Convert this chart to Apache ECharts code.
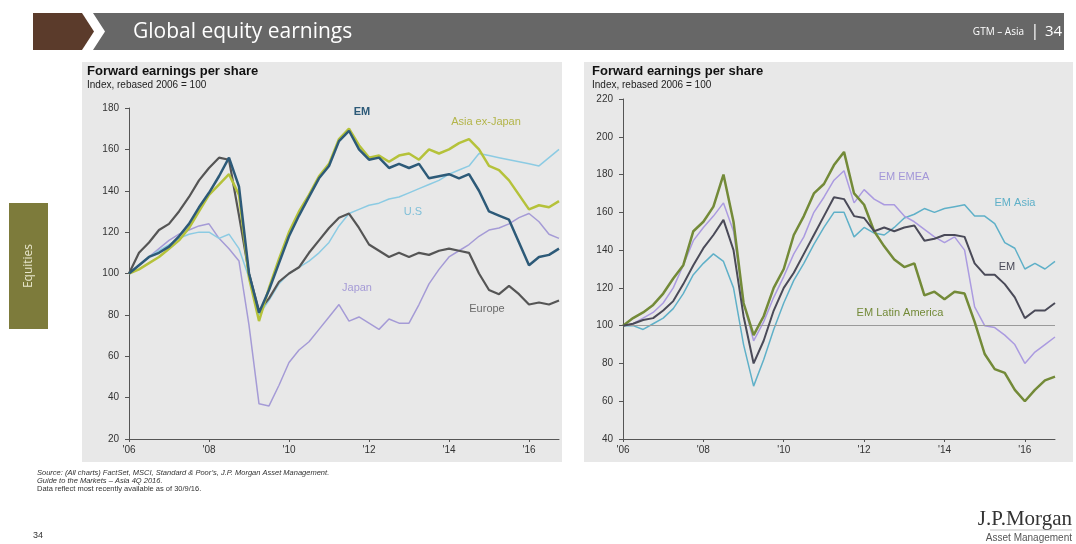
<!DOCTYPE html>
<html>
<head>
<meta charset="utf-8">
<script src="https://cdn.jsdelivr.net/npm/echarts@6/dist/echarts.min.js"></script>
<style>
html,body{margin:0;padding:0;background:#fff;}
#c{width:1076px;height:544px;}
</style>
</head>
<body>
<div id="c"></div>
<script>
// ---------- DATA ----------
var years = [2006,2006.25,2006.5,2006.75,2007,2007.25,2007.5,2007.75,2008,2008.25,2008.5,2008.75,
  2009,2009.25,2009.5,2009.75,2010,2010.25,2010.5,2010.75,2011,2011.25,2011.5,2011.75,
  2012,2012.25,2012.5,2012.75,2013,2013.25,2013.5,2013.75,2014,2014.25,2014.5,2014.75,
  2015,2015.25,2015.5,2015.75,2016,2016.25,2016.5,2016.75];
var xTickValues = [2006,2008,2010,2012,2014,2016];
var leftYTicks = [20,40,60,80,100,120,140,160,180];
var rightYTicks = [40,60,80,100,120,140,160,180,200,220];

// Left chart: forward EPS, index 2006 = 100
var europe = [100,110,115,121,124,130,137,145,151,156,155,128,
  100,82,88,96,100,103,110,116,122,127,129,122,
  114,111,108,110,108,110,109,111,112,111,110,100,
  92,90,94,90,85,86,85,87];
var emLeft = [100,104,108,110,113,118,124,132,139,147,156,142,
  100,81,92,105,118,128,137,146,152,164,169,160,
  155,156,151,153,151,153,146,147,148,146,148,140,
  130,128,126,115,104,108,109,112];
var asiaExJapan = [100,102,105,108,112,116,122,130,138,143,148,138,
  98,77,93,107,120,130,138,147,153,165,170,162,
  156,157,154,157,158,155,160,158,160,163,165,160,
  152,150,145,138,131,133,132,135];
var us = [100,104,108,111,114,117,119,120,120,117,119,112,
  98,80,87,95,100,103,106,110,115,123,129,131,
  133,134,136,137,139,141,143,145,148,150,152,158,
  157,156,155,154,153,152,156,160];
var japan = [100,104,108,112,116,119,121,123,124,117,112,106,
  75,37,36,46,57,63,67,73,79,85,77,79,
  76,73,78,76,76,85,95,102,108,111,114,118,
  121,122,124,127,129,125,119,117];

// Right chart
var emLatAm = [100,104,107,111,117,125,132,150,155,163,180,155,
  112,95,105,120,130,148,158,170,175,185,192,170,
  164,150,142,135,131,133,116,118,114,118,117,102,
  85,77,75,66,60,66,71,73];
var emRight = [100,101,103,104,108,113,122,132,141,148,156,140,
  105,80,92,108,120,128,138,148,158,168,167,158,
  157,150,152,150,152,153,145,146,148,148,147,133,
  127,127,122,115,104,108,108,112];
var emEmea = [100,101,104,107,112,120,132,145,152,158,165,150,
  112,92,102,115,126,138,147,160,168,177,182,165,
  172,167,164,164,158,155,151,147,144,147,140,110,
  100,99,95,90,80,86,90,94];
var emAsia = [100,100,98,101,104,109,117,127,133,138,134,120,
  90,68,82,98,112,124,133,143,152,160,160,147,
  152,149,148,152,157,159,162,160,162,163,164,158,
  158,154,144,141,130,133,130,134];

// ---------- CHART ----------
function pairs(v){ return years.map(function(y,i){ return [y, v[i]]; }); }
function yr(v){ return "'" + String(Math.round(v)).slice(2,4); }

var axisCol = '#555';
var labelStyle = {color:'#333', fontSize:10, fontFamily:'Liberation Sans, Arial, sans-serif'};

function xAxis(gi){
  return {
    type:'value', gridIndex:gi, min:2006, max:2016.75, interval:2,
    axisLine:{show:true, lineStyle:{color:axisCol, width:1}},
    axisTick:{show:true, length:3, customValues:xTickValues, lineStyle:{color:axisCol}},
    axisLabel:Object.assign({margin:6, formatter:yr, customValues:xTickValues}, labelStyle),
    splitLine:{show:false}
  };
}
function yAxis(gi, min, max, ticks){
  return {
    type:'value', gridIndex:gi, min:min, max:max, interval:20,
    axisLine:{show:true, lineStyle:{color:axisCol, width:1}},
    axisTick:{show:true, length:4, customValues:ticks, lineStyle:{color:axisCol}},
    axisLabel:Object.assign({margin:10, customValues:ticks}, labelStyle),
    splitLine:{show:false}
  };
}
function line(name, data, color, width, xi, z){
  return {
    type:'line', name:name, xAxisIndex:xi, yAxisIndex:xi, data:pairs(data),
    showSymbol:false, symbol:'none', smooth:false, z:z||2,
    lineStyle:{color:color, width:width}, itemStyle:{color:color}, animation:false
  };
}

var font = 'Liberation Sans, Arial, sans-serif';
function txt(x, y, text, fill, size, opts){
  var s = Object.assign({text:text, fill:fill, fontSize:size, fontFamily:font}, opts||{});
  return {type:'text', x:x, y:y, z:100, style:s, silent:true};
}

var chart = echarts.init(document.getElementById('c'), null, {renderer:'canvas'});
var latSeries = line('EM Latin America', emLatAm, '#738a38', 2.5, 1, 5);
latSeries.markLine = {
  silent:true, symbol:'none', label:{show:false},
  lineStyle:{color:'#9a9a9a', width:1, type:'solid'},
  data:[{yAxis:100}], animation:false
};

chart.setOption({
  animation:false,
  backgroundColor:'#ffffff',
  grid:[
    {left:129, top:108, width:430, height:331},
    {left:623, top:99, width:432, height:340}
  ],
  xAxis:[xAxis(0), xAxis(1)],
  yAxis:[yAxis(0,20,180,leftYTicks), yAxis(1,40,220,rightYTicks)],
  series:[
    line('Japan', japan, '#a59bd6', 1.5, 0, 2),
    line('U.S.', us, '#8ccbe3', 1.5, 0, 3),
    line('Europe', europe, '#555555', 2.2, 0, 4),
    line('Asia ex-Japan', asiaExJapan, '#b5c23a', 2.5, 0, 5),
    line('EM', emLeft, '#2d5a78', 2.5, 0, 6),
    line('EM Asia', emAsia, '#5fb0c8', 1.5, 1, 3),
    line('EM EMEA', emEmea, '#ab9be0', 1.5, 1, 4),
    latSeries,
    line('EM', emRight, '#4a4a58', 2, 1, 6)
  ],
  graphic:[
    // plot background boxes
    {type:'rect', z:-10, shape:{x:82, y:62, width:480, height:400}, style:{fill:'#e8e8e8'}, silent:true},
    {type:'rect', z:-10, shape:{x:584, y:62, width:489, height:400}, style:{fill:'#e8e8e8'}, silent:true},
    // header
    {type:'polygon', z:-5, shape:{points:[[33,13],[82,13],[94,31.5],[82,50],[33,50]]}, style:{fill:'#5b3b2b'}, silent:true},
    {type:'polygon', z:-5, shape:{points:[[93,13],[1064,13],[1064,50],[93,50],[105,31.5]]}, style:{fill:'#676767'}, silent:true},
    txt(133, 32, 'Global equity earnings', '#ffffff', 21, {fontFamily:'Open Sans, sans-serif', verticalAlign:'middle'}),
    txt(1024, 32, 'GTM \u2013 Asia', '#ffffff', 10, {fontFamily:'Open Sans, sans-serif', align:'right', verticalAlign:'middle'}),
    txt(1035, 31, '|', '#ffffff', 16, {fontFamily:'Open Sans, sans-serif', align:'center', verticalAlign:'middle'}),
    txt(1045, 32, '34', '#ffffff', 15, {fontFamily:'Open Sans, sans-serif', align:'left', verticalAlign:'middle'}),
    // sidebar
    {type:'rect', z:-5, shape:{x:9, y:203, width:39, height:126}, style:{fill:'#7d7b3b'}, silent:true},
    {type:'text', z:100, x:29, y:266, rotation:Math.PI/2, silent:true,
      style:{text:'Equities', fill:'#e8e6cc', fontSize:12, fontFamily:'Open Sans, sans-serif', align:'center', verticalAlign:'middle'}},
    // chart titles
    txt(87, 71, 'Forward earnings per share', '#111', 13, {fontWeight:'bold', verticalAlign:'middle'}),
    txt(87, 85, 'Index, rebased 2006 = 100', '#222', 10, {verticalAlign:'middle'}),
    txt(592, 71, 'Forward earnings per share', '#111', 13, {fontWeight:'bold', verticalAlign:'middle'}),
    txt(592, 85, 'Index, rebased 2006 = 100', '#222', 10, {verticalAlign:'middle'}),
    // left series labels
    txt(362, 112, 'EM', '#2d5a78', 11, {fontWeight:'bold', align:'center', verticalAlign:'middle'}),
    txt(486, 122, 'Asia ex-Japan', '#b3b54a', 11, {align:'center', verticalAlign:'middle'}),
    txt(413, 212, 'U.S', '#7fbfd8', 11, {align:'center', verticalAlign:'middle'}),
    txt(357, 288, 'Japan', '#a59bd6', 11, {align:'center', verticalAlign:'middle'}),
    txt(487, 309, 'Europe', '#6a6a6a', 11, {align:'center', verticalAlign:'middle'}),
    // right series labels
    txt(904, 177, 'EM EMEA', '#a296d8', 11, {align:'center', verticalAlign:'middle'}),
    txt(1015, 203, 'EM Asia', '#5fb0c8', 11, {align:'center', verticalAlign:'middle'}),
    txt(1007, 267, 'EM', '#4a4a58', 11, {align:'center', verticalAlign:'middle'}),
    txt(900, 313, 'EM Latin America', '#738a38', 11, {align:'center', verticalAlign:'middle'}),
    // footer
    txt(37, 473, 'Source: (All charts) FactSet, MSCI, Standard & Poor\u2019s, J.P. Morgan Asset Management.', '#333', 7.5, {fontStyle:'italic', verticalAlign:'middle'}),
    txt(37, 481, 'Guide to the Markets \u2013 Asia 4Q 2016.', '#333', 7.5, {fontStyle:'italic', verticalAlign:'middle'}),
    txt(37, 489, 'Data reflect most recently available as of 30/9/16.', '#333', 7.5, {verticalAlign:'middle'}),
    txt(33, 536, '34', '#333', 9, {verticalAlign:'middle'}),
    txt(1072, 519, 'J.P.Morgan', '#333', 21, {fontFamily:'Liberation Serif, DejaVu Serif, serif', align:'right', verticalAlign:'middle'}),
    {type:'line', z:100, silent:true, shape:{x1:990, y1:530, x2:1072, y2:530}, style:{stroke:'#999', lineWidth:0.6}},
    txt(1072, 538, 'Asset Management', '#555', 10, {align:'right', verticalAlign:'middle'})
  ]
});
</script>
</body>
</html>
